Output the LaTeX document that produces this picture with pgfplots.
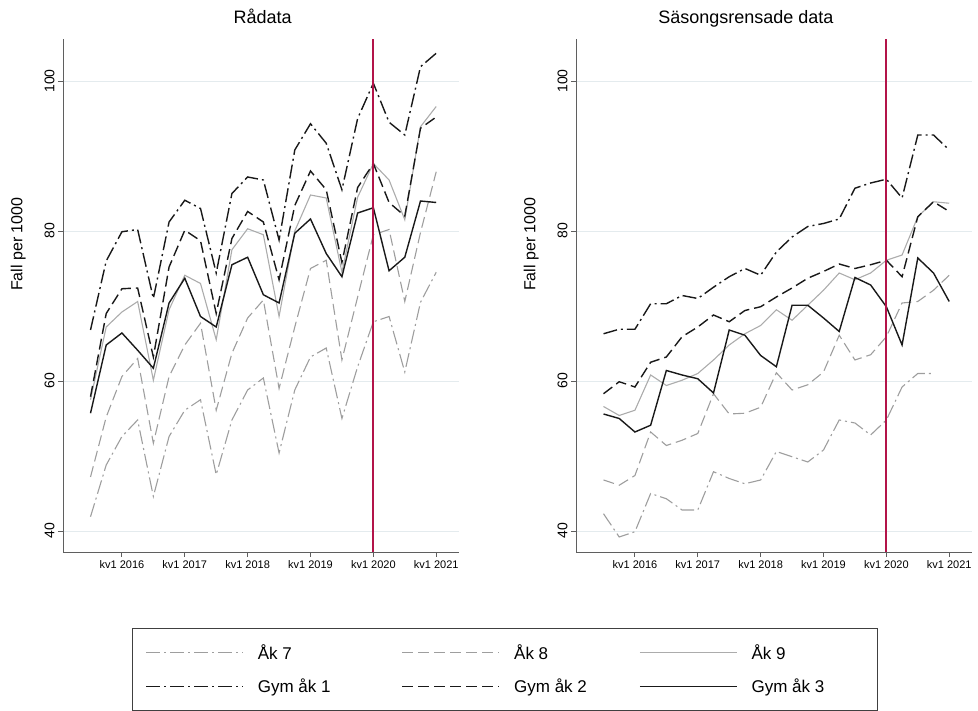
\documentclass[border=0pt]{standalone}
\usepackage{pgfplots}
\pgfplotsset{compat=1.18}
\usepackage{pgfplotstable}
\usepackage{fontspec}
\setmainfont{Liberation Sans}
\definecolor{gA}{RGB}{158,158,158}
\definecolor{gB}{RGB}{172,172,172}
\definecolor{blk}{RGB}{25,25,25}
\definecolor{gridc}{RGB}{228,235,238}
\definecolor{axc}{RGB}{95,95,95}

\pgfplotstableread{
k a7 a8 a9 g1 g2 g3
0 41.9 47.2 57.5 66.8 57.9 55.7
1 48.8 55.2 67.2 76.0 69.0 64.8
2 52.6 60.6 69.2 79.9 72.3 66.4
3 54.8 63.0 70.6 80.2 72.4 64.1
4 44.6 51.7 60.1 71.0 63.2 61.7
5 52.6 60.6 69.5 81.2 75.2 70.4
6 56.1 64.8 74.1 84.1 80.1 73.7
7 57.5 67.7 73.0 83.0 78.7 68.6
8 47.5 56.1 65.5 74.4 69.0 67.2
9 54.8 63.7 77.5 85.0 79.0 75.5
10 58.8 68.4 80.3 87.2 82.6 76.5
11 60.4 70.8 79.5 86.8 81.2 71.5
12 50.4 59.0 68.6 78.8 73.5 70.4
13 58.8 67.2 80.0 90.8 83.4 79.7
14 63.2 75.0 84.8 94.3 88.0 81.6
15 64.4 76.1 84.4 91.7 85.5 77.0
16 55.0 62.8 74.5 85.5 75.8 73.9
17 61.9 71.2 84.5 95.0 85.8 82.4
18 67.9 79.5 89.0 99.7 89.0 83.1
19 68.6 80.2 86.8 94.5 83.8 74.7
20 61.2 70.6 81.5 92.8 82.0 76.5
21 70.5 79.8 93.9 101.9 93.7 84.0
22 74.5 87.9 96.6 103.7 95.2 83.8
}\rawdata

\pgfplotstableread{
k a7 a8 a9 g1 g2 g3
0 42.3 46.8 56.6 66.3 58.3 55.6
1 39.2 46.1 55.4 66.9 59.9 55.0
2 39.9 47.4 56.1 66.9 59.2 53.2
3 45.0 53.2 60.8 70.3 62.5 54.1
4 44.3 51.4 59.4 70.3 63.2 61.4
5 42.8 52.1 60.1 71.4 65.9 60.8
6 42.8 53.0 61.0 71.0 67.2 60.3
7 47.9 58.3 62.8 72.5 68.8 58.4
8 47.0 55.6 64.8 73.9 67.9 66.8
9 46.3 55.7 66.3 75.0 69.4 66.1
10 46.8 56.5 67.4 74.1 69.9 63.4
11 50.6 61.1 69.5 77.2 71.2 61.9
12 49.9 58.8 68.1 79.2 72.4 70.1
13 49.2 59.5 70.1 80.6 73.7 70.1
14 50.8 61.2 72.1 81.0 74.6 68.4
15 54.8 66.1 74.4 81.6 75.6 66.6
16 54.4 62.8 73.5 85.7 75.0 73.8
17 52.8 63.5 74.4 86.4 75.5 72.8
18 54.8 65.9 76.1 86.9 76.1 69.9
19 59.2 70.4 76.8 84.4 73.9 64.8
20 61.0 70.6 81.9 92.8 81.9 76.4
21 61.0 72.1 83.9 92.8 83.9 74.4
22 nan 74.1 83.7 90.8 82.6 70.6
}\sadata

\pgfplotsset{
  panel/.style={
    scale only axis, width=396pt, height=513pt,
    xmin=-1.75, xmax=23.45, ymin=37.2, ymax=105.6,
    axis x line*=bottom, axis y line*=left,
    axis line style={axc, line width=0.9pt},
    xtick={2,6,10,14,18,22},
    xticklabels={kv1 2016,kv1 2017,kv1 2018,kv1 2019,kv1 2020,kv1 2021},
    ytick={40,60,80,100},
    ymajorgrids, major grid style={gridc, line width=0.9pt},
    tick align=outside, major tick length=5pt,
    tick style={axc, line width=0.9pt},
    /pgf/number format/assume math mode=true,
    xticklabel style={font=\fontsize{11}{13}\selectfont},
    yticklabel style={font=\fontsize{14}{16}\selectfont, rotate=90, anchor=south},
    ylabel={Fall per 1000},
    ylabel style={font=\fontsize{16}{19}\selectfont, at={(axis description cs:-0.113,0.6)}, anchor=center, rotate=0},
    title style={font=\fontsize{18}{21}\selectfont, anchor=base, yshift=9pt},
  },
  s7/.style={gA, line width=1.1pt, dash pattern=on 14pt off 4pt on 2pt off 4pt},
  s8/.style={gA, line width=1.1pt, dash pattern=on 11pt off 5pt},
  s9/.style={gB, line width=1.1pt, solid},
  s1/.style={blk, line width=1.4pt, dash pattern=on 14pt off 4pt on 2pt off 4pt},
  s2/.style={blk, line width=1.4pt, dash pattern=on 11pt off 5pt},
  s3/.style={blk, line width=1.4pt, solid},
  vred/.style={draw=purple!90!black!92!white, solid, line width=2.2pt, forget plot},
}

\begin{document}
\begin{tikzpicture}
\useasboundingbox (0,0) rectangle (978pt,711pt);
\begin{axis}[panel, at={(63pt,159pt)}, anchor=south west,
  title={Rådata}, title style={at={(0.504,1)}},
]
\addplot[s7] table[x=k,y=a7]{\rawdata};
\addplot[s8] table[x=k,y=a8]{\rawdata};
\addplot[s9] table[x=k,y=a9]{\rawdata};
\addplot[s1] table[x=k,y=g1]{\rawdata};
\addplot[s2] table[x=k,y=g2]{\rawdata};
\addplot[s3] table[x=k,y=g3]{\rawdata};
\addplot[vred] coordinates {(18,37.2) (18,105.6)};
\end{axis}
\begin{axis}[panel, at={(576pt,159pt)}, anchor=south west,
  title={Säsongsrensade data}, title style={at={(0.429,1)}},
]
\addplot[s7] table[x=k,y=a7]{\sadata};
\addplot[s8] table[x=k,y=a8]{\sadata};
\addplot[s9] table[x=k,y=a9]{\sadata};
\addplot[s1] table[x=k,y=g1]{\sadata};
\addplot[s2] table[x=k,y=g2]{\sadata};
\addplot[s3] table[x=k,y=g3]{\sadata};
\addplot[vred] coordinates {(18,37.2) (18,105.6)};
\end{axis}
\begin{axis}[hide axis, scale only axis, width=10pt, height=10pt,
  at={(505pt,41.5pt)}, anchor=center,
  xmin=0, xmax=1, ymin=0, ymax=1,
  legend image code/.code={\draw[#1] (0pt,0pt) -- (97pt,0pt);},
  legend columns=3, legend cell align=left,
  legend style={at={(0.5,0.5)}, anchor=center,
    draw=black!75, line width=0.9pt, fill=white,
    font=\fontsize{17}{20}\selectfont,
    inner xsep=13pt, inner ysep=14pt, row sep=14pt,
    /tikz/every odd column/.append style={column sep=12pt},
    /tikz/every even column/.append style={column sep=0pt}},
]
\addlegendimage{s7} \addlegendentry{\makebox[142pt][l]{Åk 7}}
\addlegendimage{s8} \addlegendentry{\makebox[123pt][l]{Åk 8}}
\addlegendimage{s9} \addlegendentry{\makebox[111pt][l]{Åk 9}}
\addlegendimage{s1} \addlegendentry{\makebox[142pt][l]{Gym åk 1}}
\addlegendimage{s2} \addlegendentry{\makebox[123pt][l]{Gym åk 2}}
\addlegendimage{s3} \addlegendentry{\makebox[111pt][l]{Gym åk 3}}
\end{axis}
\end{tikzpicture}
\end{document}
